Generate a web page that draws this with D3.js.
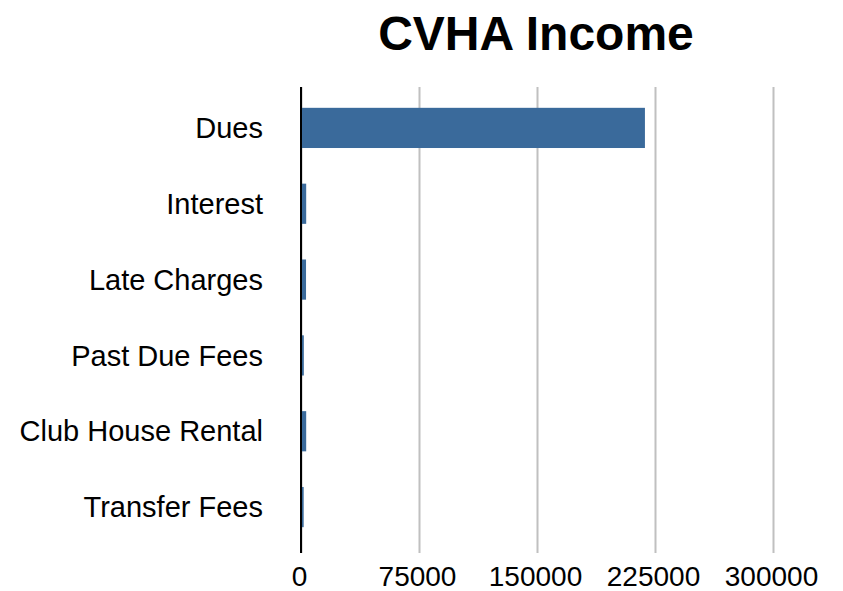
<!DOCTYPE html>
<html>
<head>
<meta charset="utf-8">
<script src="https://cdn.jsdelivr.net/npm/d3@7"></script>
<style>
  body { margin: 0; background: #fff; }
  svg { display: block; font-family: Helvetica, "Liberation Sans", Arial, sans-serif; }
</style>
</head>
<body>
<svg id="chart" width="843" height="591"></svg>
<script>
const categories = ['Dues', 'Interest', 'Late Charges', 'Past Due Fees', 'Club House Rental', 'Transfer Fees'];
const incomeValues = [218600, 3300, 3200, 1800, 3300, 1700];
const tickValues = [0, 75000, 150000, 225000, 300000];
const chartTitle = 'CVHA Income';

const svg = d3.select('#chart');

const plotLeft = 301, plotRight = 773;
const plotTop = 87, plotBottom = 553;

const x = d3.scaleLinear()
  .domain([0, 300000])
  .range([plotLeft, plotRight]);

const y = d3.scaleBand()
  .domain(categories)
  .range([90, 545])
  .paddingInner(0.47)
  .paddingOuter(0.235);

// title
svg.append('text')
  .attr('x', 536)
  .attr('y', 50)
  .attr('text-anchor', 'middle')
  .style('font-size', '48px')
  .style('font-weight', 'bold')
  .text(chartTitle);

// gridlines + tick labels
const xAxis = svg.append('g')
  .attr('transform', `translate(0,${plotBottom})`)
  .call(d3.axisBottom(x)
    .tickValues(tickValues)
    .tickFormat(d3.format('d'))
    .tickSizeInner(-(plotBottom - plotTop))
    .tickSizeOuter(0)
    .tickPadding(13));

xAxis.select('.domain').remove();
xAxis.selectAll('.tick line')
  .attr('stroke', '#c0c0c0')
  .attr('stroke-width', 2);
xAxis.selectAll('.tick text')
  .attr('fill', '#000')
  .attr('dx', '-2')
  .style('font-size', '28px')
  .style('font-family', 'Helvetica, "Liberation Sans", Arial, sans-serif');

// bars
svg.append('g')
  .selectAll('rect')
  .data(categories)
  .enter().append('rect')
  .attr('x', x(0))
  .attr('y', d => y(d))
  .attr('width', (d, i) => x(incomeValues[i]) - x(0))
  .attr('height', y.bandwidth())
  .attr('fill', '#3a6a9b');

// zero axis line
svg.append('line')
  .attr('x1', x(0))
  .attr('x2', x(0))
  .attr('y1', plotTop)
  .attr('y2', plotBottom)
  .attr('stroke', '#000')
  .attr('stroke-width', 2);

// category labels
svg.append('g')
  .selectAll('text')
  .data(categories)
  .enter().append('text')
  .attr('x', plotLeft - 38)
  .attr('y', d => y(d) + y.bandwidth() / 2)
  .attr('dy', '0.35em')
  .attr('text-anchor', 'end')
  .style('font-size', '29px')
  .text(d => d);
</script>
</body>
</html>
